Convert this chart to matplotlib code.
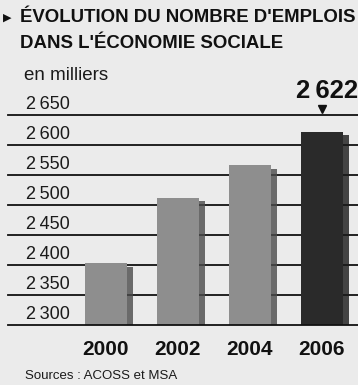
import matplotlib.pyplot as plt
from matplotlib import font_manager

# ============ data ============
years = ["2000", "2002", "2004", "2006"]
emplois = [2403, 2512, 2566, 2622]   # en milliers
ticks = [2300, 2350, 2400, 2450, 2500, 2550, 2600, 2650]
tick_labels = ["2\u2009300", "2\u2009350", "2\u2009400", "2\u2009450",
               "2\u2009500", "2\u2009550", "2\u2009600", "2\u2009650"]
bar_colors = ["#8e8e8e", "#8e8e8e", "#8e8e8e", "#2a2a2a"]
shadow_colors = ["#4a4a4a", "#4a4a4a", "#4a4a4a", "#1a1a1a"]

names = {f.name for f in font_manager.fontManager.ttflist}
narrow = "Liberation Sans Narrow" if "Liberation Sans Narrow" in names else "Liberation Sans"
plt.rcParams['font.family'] = [narrow, 'DejaVu Sans']

fig = plt.figure(figsize=(3.58, 3.85), dpi=100, facecolor="#ebebeb")
ax = fig.add_axes([8 / 358, 1 - 325 / 385, 350 / 358, 210 / 385])
ax.set_facecolor("#ebebeb")

x = list(range(len(years)))
# shadow strip on the right of each bar
ax.bar([i + 0.08 for i in x], [v - 6 - 2300 for v in emplois], bottom=2300,
       width=0.58, color=shadow_colors, alpha=0.8, zorder=2)
ax.bar(x, [v - 2300 for v in emplois], bottom=2300, width=0.58,
       color=bar_colors, zorder=3)

ax.set_xlim(-1.36, 3.5)
ax.set_ylim(2300, 2650)
for t, lab in zip(ticks, tick_labels):
    ax.axhline(t, color="#111111", lw=1.3, zorder=1 if t > 2300 else 4,
               clip_on=False)
    ax.text(0.05, t + 4, lab, transform=ax.get_yaxis_transform(),
            fontsize=13, color="#1a1a1a", va="bottom", ha="left")

ax.set_xticks(x)
ax.set_xticklabels(years, fontsize=15, fontweight="bold", color="#111111")
ax.tick_params(axis="x", length=0, pad=11)
ax.set_yticks([])
for s in ax.spines.values():
    s.set_visible(False)

# valeur 2006 + marqueur
ax.text(3.5, 2690, "2\u2009622", fontsize=18.5, fontweight="bold",
        ha="right", va="center", color="#111111")
ax.plot([3], [2660], marker="v", color="#111111", markersize=6, clip_on=False)

fig.text(3 / 358, 1 - 18 / 385, "\u25b6", fontsize=8, va="center", ha="left",
         color="#111111")
fig.text(20 / 358, 1 - 18 / 385, "ÉVOLUTION DU NOMBRE D'EMPLOIS",
         fontsize=13.4, fontweight="bold", va="center", ha="left", color="#111111")
fig.text(20 / 358, 1 - 44 / 385, "DANS L'ÉCONOMIE SOCIALE",
         fontsize=13.4, fontweight="bold", va="center", ha="left", color="#111111")
fig.text(24 / 358, 1 - 75 / 385, "en milliers", fontsize=13.5,
         va="center", ha="left", color="#1a1a1a")
fig.text(25 / 358, 1 - 376 / 385, "Sources : ACOSS et MSA", fontsize=9.5,
         va="center", ha="left", color="#1a1a1a")

fig.savefig("out.png", dpi=100, facecolor=fig.get_facecolor())
